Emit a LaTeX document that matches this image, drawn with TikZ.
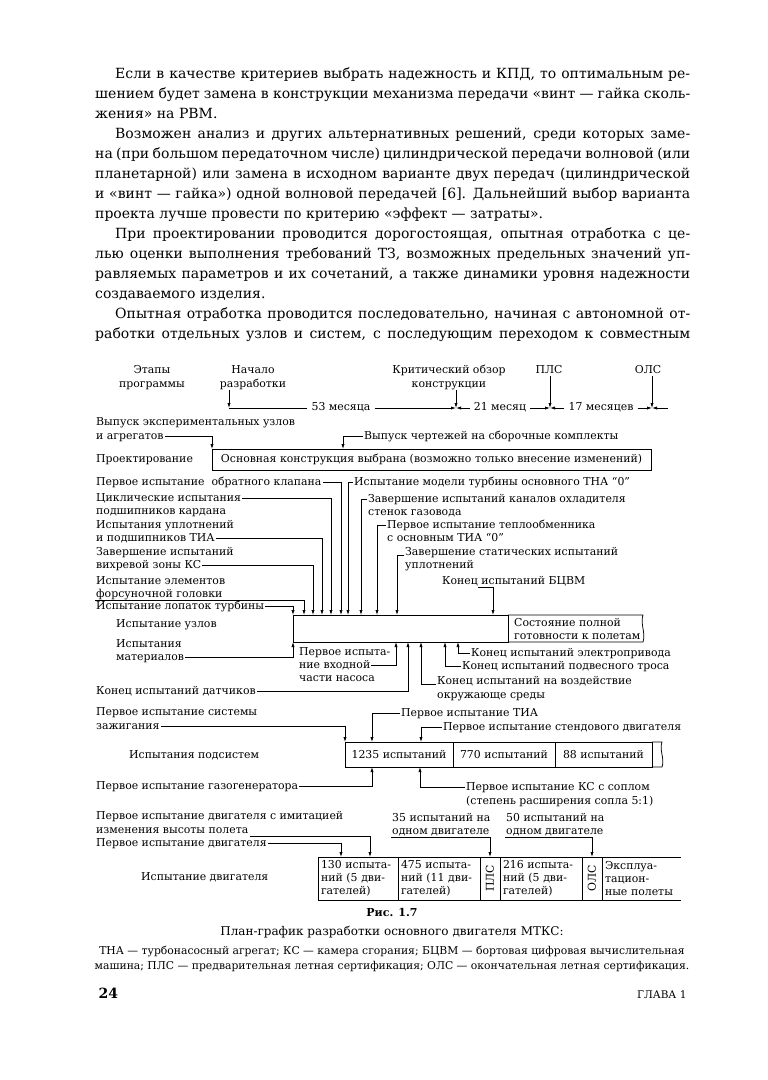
\documentclass[tikz,border=0pt]{standalone}
\usepackage{fontspec}
\setmainfont{DejaVu Serif}
\usetikzlibrary{positioning, calc, arrows.meta}

\begin{document}
\begin{tikzpicture}[x=1pt, y=-1pt,
    txt/.style={font=\fontsize{14}{20}\selectfont, inner sep=0pt, anchor=base west},
    lbl/.style={font=\fontsize{10.9}{13}\selectfont, inner sep=1pt,
        text height=7.5pt, text depth=2.2pt},
    cell/.style={draw, line width=0.8pt, outer sep=0pt, inner sep=0pt,
        minimum height=25pt, font=\fontsize{10.9}{13}\selectfont},
    ecell/.style={draw, line width=0.8pt, outer sep=0pt, inner xsep=3pt,
        minimum height=43pt, align=left, font=\fontsize{10.9}{13}\selectfont},
    arr/.style={-{Latex[length=5pt, width=3.2pt]}, line width=0.75pt},
    ln/.style={line width=0.75pt}]
  \fill[white] (0,0) rectangle (768,1080);
  \useasboundingbox (0,0) rectangle (768,1080);
  % Текст страницы
  \node[txt] (p1)  at (115,78)  {\makebox[575pt][s]{Если в качестве критериев выбрать надежность и КПД, то оптимальным ре-}};
  \node[txt] (p2)  at (95,98)   {\makebox[595pt][s]{шением будет замена в конструкции механизма передачи «винт — гайка сколь-}};
  \node[txt] (p3)  at (95,118)  {жения» на РВМ.};
  \node[txt] (p4)  at (115,138) {\makebox[575pt][s]{Возможен анализ и других альтернативных решений, среди которых заме-}};
  \node[txt] (p5)  at (95,158)  {\makebox[595pt][s]{на (при большом передаточном числе) цилиндрической передачи волновой (или}};
  \node[txt] (p6)  at (95,178)  {\makebox[595pt][s]{планетарной) или замена в исходном варианте двух передач (цилиндрической}};
  \node[txt] (p7)  at (95,198)  {\makebox[595pt][s]{и «винт — гайка») одной волновой передачей [6]. Дальнейший выбор варианта}};
  \node[txt] (p8)  at (95,218)  {проекта лучше провести по критерию «эффект — затраты».};
  \node[txt] (p9)  at (115,238) {\makebox[575pt][s]{При проектировании проводится дорогостоящая, опытная отработка с це-}};
  \node[txt] (p10) at (95,258)  {\makebox[595pt][s]{лью оценки выполнения требований ТЗ, возможных предельных значений уп-}};
  \node[txt] (p11) at (95,278)  {\makebox[595pt][s]{равляемых параметров и их сочетаний, а также динамики уровня надежности}};
  \node[txt] (p12) at (95,298)  {создаваемого изделия.};
  \node[txt] (p13) at (115,318) {\makebox[575pt][s]{Опытная отработка проводится последовательно, начиная с автономной от-}};
  \node[txt] (p14) at (95,338)  {\makebox[595pt][s]{работки отдельных узлов и систем, с последующим переходом к совместным}};
  % Этапы программы
  \node[lbl, anchor=base] (etap)  at (152,373) {Этапы};
  \node[lbl, anchor=base] (etapb) at (152,387) {программы};
  \node[lbl, anchor=base] (nach)  at (253,373) {Начало};
  \node[lbl, anchor=base] (nachb) at (253,387) {разработки};
  \node[lbl, anchor=base] (krit)  at (449,373) {Критический обзор};
  \node[lbl, anchor=base] (kritb) at (449,387) {конструкции};
  \node[lbl, anchor=base] (pls)   at (549,373) {ПЛС};
  \node[lbl, anchor=base] (ols)   at (648,373) {ОЛС};
  \coordinate (m0) at (229,408);
  \coordinate (m1) at (456,408);
  \coordinate (m2) at (550,408);
  \coordinate (m3) at (652,408);
  \coordinate (m4) at (668,408);
  \node[lbl, inner xsep=4pt] (mes53) at (341,408) {53 месяца};
  \node[lbl, inner xsep=4pt] (mes21) at (500,408) {21 месяц};
  \node[lbl, inner xsep=4pt] (mes17) at (601,408) {17 месяцев};
  \draw[arr] (nachb.south -| m0) -- (m0);
  \draw[ln]  (m0) -- (mes53.west);
  \draw[arr] (mes53.east) -- (m1);
  \draw[arr] (kritb.south -| m1) -- (m1);
  \draw[arr] (mes21.west) -- (m1);
  \draw[arr] (mes21.east) -- (m2);
  \draw[arr] (pls.south -| m2) -- (m2);
  \draw[arr] (mes17.west) -- (m2);
  \draw[arr] (mes17.east) -- (m3);
  \draw[arr] (ols.south -| m3) -- (m3);
  \draw[arr] (m4) -- (m3);
  % Проектирование
  \node[lbl, anchor=base west] (agr)  at (95,425) {Выпуск экспериментальных узлов};
  \node[lbl, anchor=base west] (agrb) at (95,439) {и агрегатов};
  \node[lbl, anchor=base west] (chert) at (363,439) {Выпуск чертежей на сборочные комплекты};
  \node[lbl, anchor=west] (projl) at (95,459.5) {Проектирование};
  \node[cell, minimum width=439pt, minimum height=21pt] (proj) at (431.5,459.5)
    {Основная конструкция выбрана (возможно только внесение изменений)};
  \coordinate (c1) at (343,449);
  \draw[arr] (agrb.east) -| (proj.north west);
  \draw[arr] (chert.west) -| (c1);
  % Испытание узлов
  \node[cell, minimum width=215pt, minimum height=27pt] (ub) at (400.5,628.5) {};
  \node[lbl, anchor=base west] (gotov)  at (513,626) {Состояние полной};
  \node[lbl, anchor=base west] (gotovb) at (513,639) {готовности к полетам};
  \draw[ln] (ub.north east) -- ++(135,0)
    .. controls +(-3,9) and +(3,-9) .. ($(ub.south east)+(135,0)$) -- (ub.south east);
  \node[lbl, anchor=base west] (uzl)  at (115,627) {Испытание узлов};
  \node[lbl, anchor=base west] (mat)  at (115,647) {Испытания};
  \node[lbl, anchor=base west] (matb) at (115,660) {материалов};
  % точки входа стрелок
  \coordinate (t1) at (304,615);
  \coordinate (t2) at (313,615);
  \coordinate (t3) at (322,615);
  \coordinate (t4) at (331,615);
  \coordinate (t5) at (341,615);
  \coordinate (t6) at (348,615);
  \coordinate (t7) at (361,615);
  \coordinate (t8) at (377,615);
  \coordinate (t9) at (397,615);
  \coordinate (t10) at (493,615);
  \coordinate (b1) at (396,642);
  \coordinate (b2) at (408,642);
  \coordinate (b3) at (421,642);
  \coordinate (b4) at (445,642);
  \coordinate (b5) at (458,642);
  % слева сверху
  \node[lbl, anchor=base west] (klap)  at (95,485) {Первое испытание \ обратного клапана};
  \node[lbl, anchor=base west] (cikl)  at (95,501) {Циклические испытания};
  \node[lbl, anchor=base west] (ciklb) at (95,514) {подшипников кардана};
  \node[lbl, anchor=base west] (upl)   at (95,528) {Испытания уплотнений};
  \node[lbl, anchor=base west] (uplb)  at (95,541) {и подшипников ТИА};
  \node[lbl, anchor=base west] (vihr)  at (95,555) {Завершение испытаний};
  \node[lbl, anchor=base west] (vihrb) at (95,568) {вихревой зоны КС};
  \node[lbl, anchor=base west] (fors)  at (95,584) {Испытание элементов};
  \node[lbl, anchor=base west] (forsb) at (95,597) {форсуночной головки};
  \node[lbl, anchor=base west] (lopat) at (95,609) {Испытание лопаток турбины};
  % справа сверху
  \node[lbl, anchor=base west] (modl)   at (353,485) {Испытание модели турбины основного ТНА “0”};
  \node[lbl, anchor=base west] (kanal)  at (367,502) {Завершение испытаний каналов охладителя};
  \node[lbl, anchor=base west] (kanalb) at (367,515) {стенок газовода};
  \node[lbl, anchor=base west] (teplo)  at (386,528) {Первое испытание теплообменника};
  \node[lbl, anchor=base west] (teplob) at (386,541) {с основным ТИА “0”};
  \node[lbl, anchor=base west] (stat)   at (404,555) {Завершение статических испытаний};
  \node[lbl, anchor=base west] (statb)  at (404,568) {уплотнений};
  \node[lbl, anchor=base west] (bcvm)   at (441,584) {Конец испытаний БЦВМ};
  \draw[arr] (klap.east) -| (t5);
  \draw[arr] (cikl.east) -| (t4);
  \draw[arr] (uplb.east) -| (t3);
  \draw[arr] (vihrb.east) -| (t2);
  \draw[arr] (forsb.south west) -| (t1);
  \draw[arr] (lopat.east) -| (ub.north west);
  \draw[arr] (modl.west) -| (t6);
  \draw[arr] (kanal.west) -| (t7);
  \draw[arr] (teplo.west) -| (t8);
  \draw[arr] ($(stat.west)+(0,3)$) -| (t9);
  \draw[arr] ($(bcvm.south west)+(37,0)$) -| (t10);
  % снизу
  \node[lbl, anchor=base west] (nas)   at (298,655) {Первое испыта-};
  \node[lbl, anchor=base west] (nasb)  at (298,668) {ние входной};
  \node[lbl, anchor=base west] (nasc)  at (298,681) {части насоса};
  \node[lbl, anchor=base west] (datch) at (95,694) {Конец испытаний датчиков};
  \node[lbl, anchor=base west] (vozd)  at (436,684) {Конец испытаний на воздействие};
  \node[lbl, anchor=base west] (vozdb) at (436,698) {окружающе среды};
  \node[lbl, anchor=base west] (tros)  at (461,669) {Конец испытаний подвесного троса};
  \node[lbl, anchor=base west] (elpr)  at (470,656) {Конец испытаний электропривода};
  \draw[arr] (matb.east) -| (ub.south west);
  \draw[arr] (nasb.east) -| (b1);
  \draw[arr] (datch.east) -| (b2);
  \draw[arr] ($(vozd.west)+(0,3)$) -| (b3);
  \draw[arr] (tros.west) -| (b4);
  \draw[arr] (elpr.west) -| (b5);
  % Испытания подсистем
  \node[lbl, anchor=base west] (pods) at (128,758) {Испытания подсистем};
  \node[cell, minimum width=108pt] (s1) at (399,754.5) {1235 испытаний};
  \node[cell, minimum width=102pt, right=0pt of s1] (s2) {770 испытаний};
  \node[cell, minimum width=97pt, right=0pt of s2] (s3) {88 испытаний};
  \draw[ln] (s3.north east) -- ++(10,0)
    .. controls +(-3,8) and +(3,-8) .. ($(s3.south east)+(10,0)$) -- (s3.south east);
  \coordinate (a1) at (372,742);
  \coordinate (a2) at (421,742);
  \coordinate (a3) at (372,767);
  \coordinate (a4) at (420,767);
  \node[lbl, anchor=base west] (zaz)   at (95,715)  {Первое испытание системы};
  \node[lbl, anchor=base west] (zazb)  at (95,729)  {зажигания};
  \node[lbl, anchor=base west] (tia)   at (400,716) {Первое испытание ТИА};
  \node[lbl, anchor=base west] (stend) at (442,730) {Первое испытание стендового двигателя};
  \node[lbl, anchor=base west] (gaz)   at (95,789)  {Первое испытание газогенератора};
  \node[lbl, anchor=base west] (ks)    at (465,790) {Первое испытание КС с соплом};
  \node[lbl, anchor=base west] (ksb)   at (465,804) {(степень расширения сопла 5:1)};
  \draw[arr] (zazb.east) -| (s1.north west);
  \draw[arr] (tia.west) -| (a1);
  \draw[arr] (stend.west) -| (a2);
  \draw[arr] (gaz.east) -| (a3);
  \draw[arr] (ks.west) -| (a4);
  % Испытание двигателя
  \node[lbl, anchor=base west] (dvig) at (140,880) {Испытание двигателя};
  \node[ecell, text width=74pt] (e1) at (358,878.5) {130 испыта-\\ний (5 дви-\\гателей)};
  \node[ecell, text width=76pt, right=0pt of e1] (e2) {475 испыта-\\ний (11 дви-\\гателей)};
  \node[ecell, inner xsep=0pt, minimum width=20pt, right=0pt of e2] (e3) {\rotatebox{90}{ПЛС}};
  \node[ecell, text width=76pt, right=0pt of e3] (e4) {216 испыта-\\ний (5 дви-\\гателей)};
  \node[ecell, inner xsep=0pt, minimum width=20pt, right=0pt of e4] (e5) {\rotatebox{90}{ОЛС}};
  \node[ecell, draw=none, text width=73pt, right=0pt of e5] (e6) {Эксплуа-\\тацион-\\ные полеты};
  \draw[ln] (e5.north east) -- (e6.north east);
  \draw[ln] (e5.south east) -- (e6.south east);
  \coordinate (f1) at (341,857);
  \coordinate (f2) at (370,857);
  \node[lbl, anchor=base west] (im)   at (95,819)  {Первое испытание двигателя с имитацией};
  \node[lbl, anchor=base west] (imb)  at (95,833)  {изменения высоты полета};
  \node[lbl, anchor=base west] (dv)   at (95,846)  {Первое испытание двигателя};
  \node[lbl, anchor=base west] (n35)  at (391,821) {35 испытаний на};
  \node[lbl, anchor=base west] (n35b) at (391,834) {одном двигателе};
  \node[lbl, anchor=base west] (n50)  at (505,821) {50 испытаний на};
  \node[lbl, anchor=base west] (n50b) at (505,834) {одном двигателе};
  \draw[arr] (imb.south east) -| (f2);
  \draw[arr] (dv.east) -| (f1);
  \draw[arr] (n35b.south west) -| (e3.north);
  \draw[arr] (n50b.south west) -| (e5.north);
  % Подпись
  \node[font=\bfseries\fontsize{11}{13}\selectfont, anchor=base] (ris) at (392,916) {Рис. 1.7};
  \node[font=\fontsize{12}{14}\selectfont, anchor=base] (capt) at (392,935)
    {План-график разработки основного двигателя МТКС:};
  \node[font=\fontsize{10.8}{12}\selectfont, anchor=base] (leg) at (392,954)
    {ТНА — турбонасосный агрегат; КС — камера сгорания; БЦВМ — бортовая цифровая вычислительная};
  \node[font=\fontsize{10.8}{12}\selectfont, anchor=base] (legb) at (392,969)
    {машина; ПЛС — предварительная летная сертификация; ОЛС — окончательная летная сертификация.};
  \node[font=\bfseries\fontsize{14}{16}\selectfont, anchor=base west] (pnum) at (95,998) {24};
  \node[font=\fontsize{10.5}{12}\selectfont, anchor=base east] (glava) at (690,998) {ГЛАВА 1};
\end{tikzpicture}
\end{document}
